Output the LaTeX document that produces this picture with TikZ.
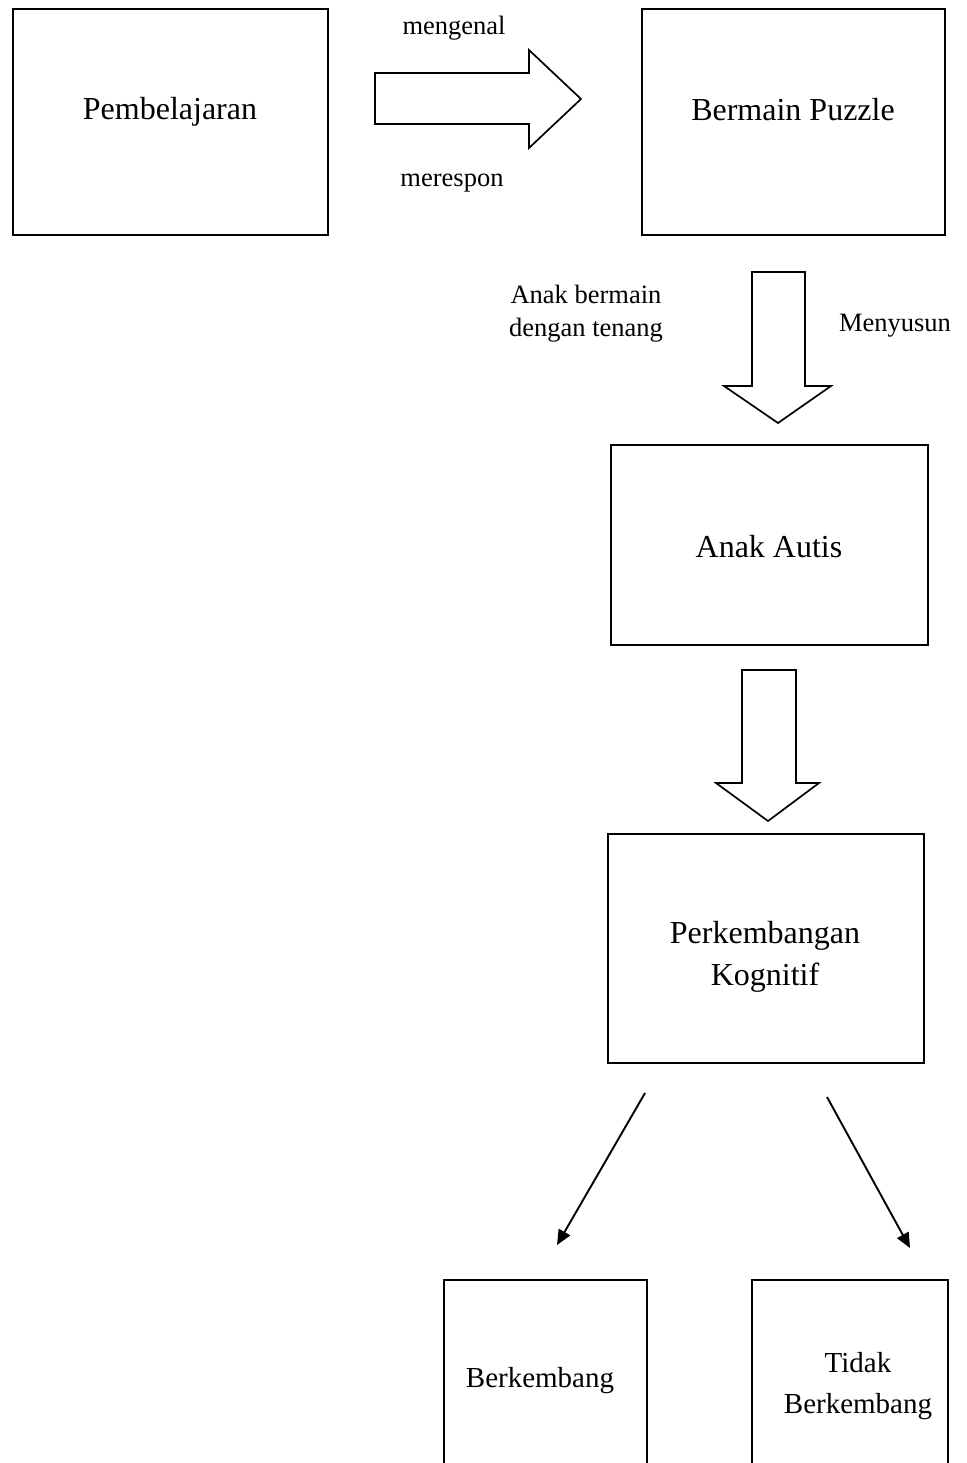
\documentclass[tikz,border=0pt]{standalone}
\usepackage{fontspec}
\setmainfont{Liberation Serif}
\usetikzlibrary{arrows.meta}
\begin{document}
\begin{tikzpicture}[x=1pt,y=-1pt,
  box/.style={draw,line width=1.7pt,inner sep=0pt},
  bigtxt/.style={font=\fontsize{32}{42}\selectfont,align=center,inner sep=0pt},
  midtxt/.style={font=\fontsize{29}{41}\selectfont,align=center,inner sep=0pt},
  smalltxt/.style={font=\fontsize{26.5}{33}\selectfont,align=center,inner sep=0pt},
  blockarrow/.style={draw,line width=1.7pt,line join=miter},
  thinarrow/.style={line width=1.9pt,-{Triangle[length=15pt,width=13pt]}}]
\useasboundingbox (0,0) rectangle (966,1463);
% boxes
\node[box,minimum width=315pt,minimum height=226pt] (pemb) at (170.5,122) {};
\node[bigtxt] (pembt) at (170,112) {Pembelajaran};
\node[box,minimum width=303pt,minimum height=226pt] (puzz) at (793.5,122) {};
\node[bigtxt] (puzzt) at (793,110) {Bermain Puzzle};
\node[box,minimum width=317pt,minimum height=200pt] (autis) at (769.5,545) {};
\node[bigtxt] (autist) at (769,547) {Anak Autis};
\node[box,minimum width=316pt,minimum height=229pt] (kog) at (766,948.5) {};
\node[bigtxt] (kogt) at (765,957) {Perkembangan\\Kognitif};
\node[box,minimum width=203pt,minimum height=195pt] (berk) at (545.5,1377.5) {};
\node[midtxt] (berkt) at (540,1381) {Berkembang};
\node[box,minimum width=196pt,minimum height=195pt] (tidak) at (850,1377.5) {};
\node[midtxt] (tidakt) at (858,1386) {Tidak\\Berkembang};
% block arrow right
\draw[blockarrow] (375,73) -- (529,73) -- (529,50) -- (581,99) -- (529,148) -- (529,124) -- (375,124) -- cycle;
\node[smalltxt] (l1) at (454,28) {mengenal};
\node[smalltxt] (l2) at (452,183) {merespon};
% block arrow down 1
\draw[blockarrow] (752,272) -- (805,272) -- (805,386) -- (831,386) -- (778,423) -- (724,386) -- (752,386) -- cycle;
\node[smalltxt] (l3) at (586,314) {Anak bermain\\dengan tenang};
\node[smalltxt] (l4) at (895,326) {Menyusun};
% block arrow down 2
\draw[blockarrow] (742,670) -- (796,670) -- (796,783) -- (819,783) -- (768,821) -- (716,783) -- (742,783) -- cycle;
% thin arrows
\coordinate (a1s) at (645,1093);
\coordinate (a1e) at (557,1245);
\coordinate (a2s) at (827,1097);
\coordinate (a2e) at (910,1248);
\draw[thinarrow] (a1s) -- (a1e);
\draw[thinarrow] (a2s) -- (a2e);
\end{tikzpicture}
\end{document}
